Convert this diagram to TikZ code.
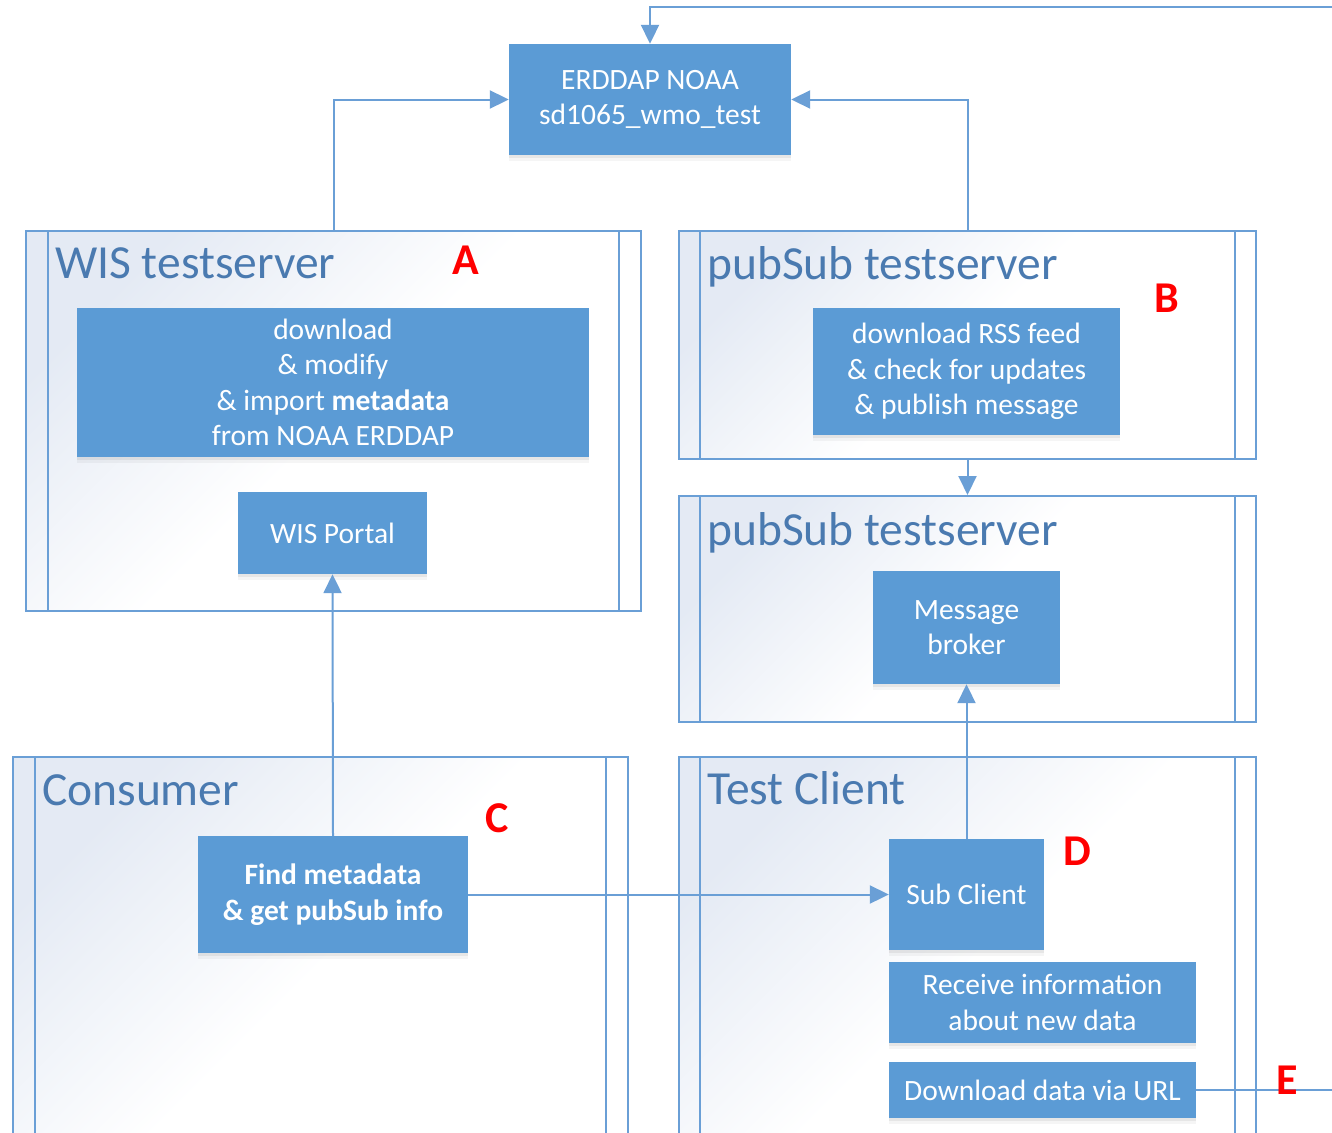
\documentclass[tikz,border=0pt]{standalone}
\usepackage{fontspec}
\setmainfont{Carlito}
\usetikzlibrary{arrows.meta,shadows}
\definecolor{boxblue}{HTML}{5B9BD5}
\definecolor{lineblue}{HTML}{6A9FD6}
\definecolor{contgray}{HTML}{E4EAF4}
\definecolor{titleblue}{HTML}{4A7AB0}
\tikzset{
  box/.style={fill=boxblue, text=white, font=\fontsize{29.5}{35.5}\selectfont, align=center,
    inner sep=0pt,
    general shadow={fill=black, opacity=0.04, shadow yshift=-6pt},
    general shadow={fill=black, opacity=0.06, shadow yshift=-3pt}},
  cont/.style={draw=lineblue, line width=2pt, top color=contgray, bottom color=white,
    middle color=white, shading angle=45, anchor=north west, inner sep=0pt},
  gut/.style={draw=lineblue, line width=2pt},
  conn/.style={draw=lineblue, line width=2pt, -{Triangle[length=19pt,width=18pt]}},
  plain/.style={draw=lineblue, line width=2pt},
  ctitle/.style={text=titleblue, font=\fontsize{47.5}{50}\selectfont, anchor=base west, inner sep=0pt},
  lab/.style={text=red, font=\bfseries\fontsize{44}{48}\selectfont, inner sep=0pt},
}
\begin{document}
\begin{tikzpicture}[x=1pt,y=-1pt]
\path[use as bounding box, clip] (0,0) rectangle (1332,1132);
\fill[white] (0,0) rectangle (1332,1132);
% containers
\node[cont, minimum width=615pt, minimum height=380pt] (wis) at (25,230) {};
\node[cont, minimum width=577pt, minimum height=228pt] (ps1) at (678,230) {};
\node[cont, minimum width=577pt, minimum height=226pt] (ps2) at (678,495) {};
\node[cont, minimum width=615pt, minimum height=420pt] (cons) at (12,756) {};
\node[cont, minimum width=577pt, minimum height=420pt] (tc) at (678,756) {};
\foreach \c/\o in {wis/23, ps1/22, ps2/22, cons/23, tc/22}{
  \draw[gut] ([xshift=\o pt]\c.north west) -- ([xshift=\o pt]\c.south west);
  \draw[gut] ([xshift=-\o pt]\c.north east) -- ([xshift=-\o pt]\c.south east);
}
% titles
\node[ctitle] (twis) at (55,278) {WIS testserver};
\node[ctitle] (tps1) at (707,279) {pubSub testserver};
\node[ctitle] (tps2) at (707,545) {pubSub testserver};
\node[ctitle] (tcons) at (42,805) {Consumer};
\node[ctitle] (ttc) at (707,804) {Test Client};
% boxes
\node[box, minimum width=282pt, minimum height=111pt] (erddap) at (650,99.5) {ERDDAP NOAA\\sd1065\_wmo\_test};
\node[box, minimum width=512pt, minimum height=149pt] (dl) at (333,382.5) {download\\\& modify\\\& import \textbf{metadata}\\from NOAA ERDDAP};
\node[box, minimum width=189pt, minimum height=82pt] (portal) at (332.5,533) {WIS Portal};
\node[box, minimum width=307pt, minimum height=127pt] (rss) at (966.5,371.5) {download RSS feed\\\& check for updates\\\& publish message};
\node[box, minimum width=187pt, minimum height=113pt] (broker) at (966.5,627.5) {Message\\broker};
\node[box, minimum width=270pt, minimum height=117pt, font=\bfseries\fontsize{29.5}{35.5}\selectfont] (find) at (333,894.5) {Find metadata\\\& get pubSub info};
\node[box, minimum width=155pt, minimum height=111pt] (sub) at (966.5,894.5) {Sub Client};
\node[box, minimum width=307pt, minimum height=81pt] (recv) at (1042.5,1002.5) {Receive information\\about new data};
\node[box, minimum width=307pt, minimum height=56pt] (dlurl) at (1042.5,1090) {Download data via URL};
% connectors
\coordinate (topin) at (1332,7);
\coordinate (eout) at (1332,1090);
\draw[conn] (topin) -| (erddap.north);
\draw[conn] (wis.north) |- (erddap.west);
\draw[conn] (ps1.north) |- (erddap.east);
\draw[conn] (ps1.south) -- (ps2.north);
\draw[conn] (sub.north) -- (broker.south);
\draw[conn] (find.north) -- (portal.south);
\draw[conn] (find.east) -- (sub.west);
\draw[plain] (dlurl.east) -- (eout);
% labels
\node[lab] (la) at (466,260) {A};
\node[lab] (lb) at (1167,298) {B};
\node[lab] (lc) at (497,818) {C};
\node[lab] (ld) at (1077,851) {D};
\node[lab] (le) at (1287,1080) {E};
\end{tikzpicture}
\end{document}
